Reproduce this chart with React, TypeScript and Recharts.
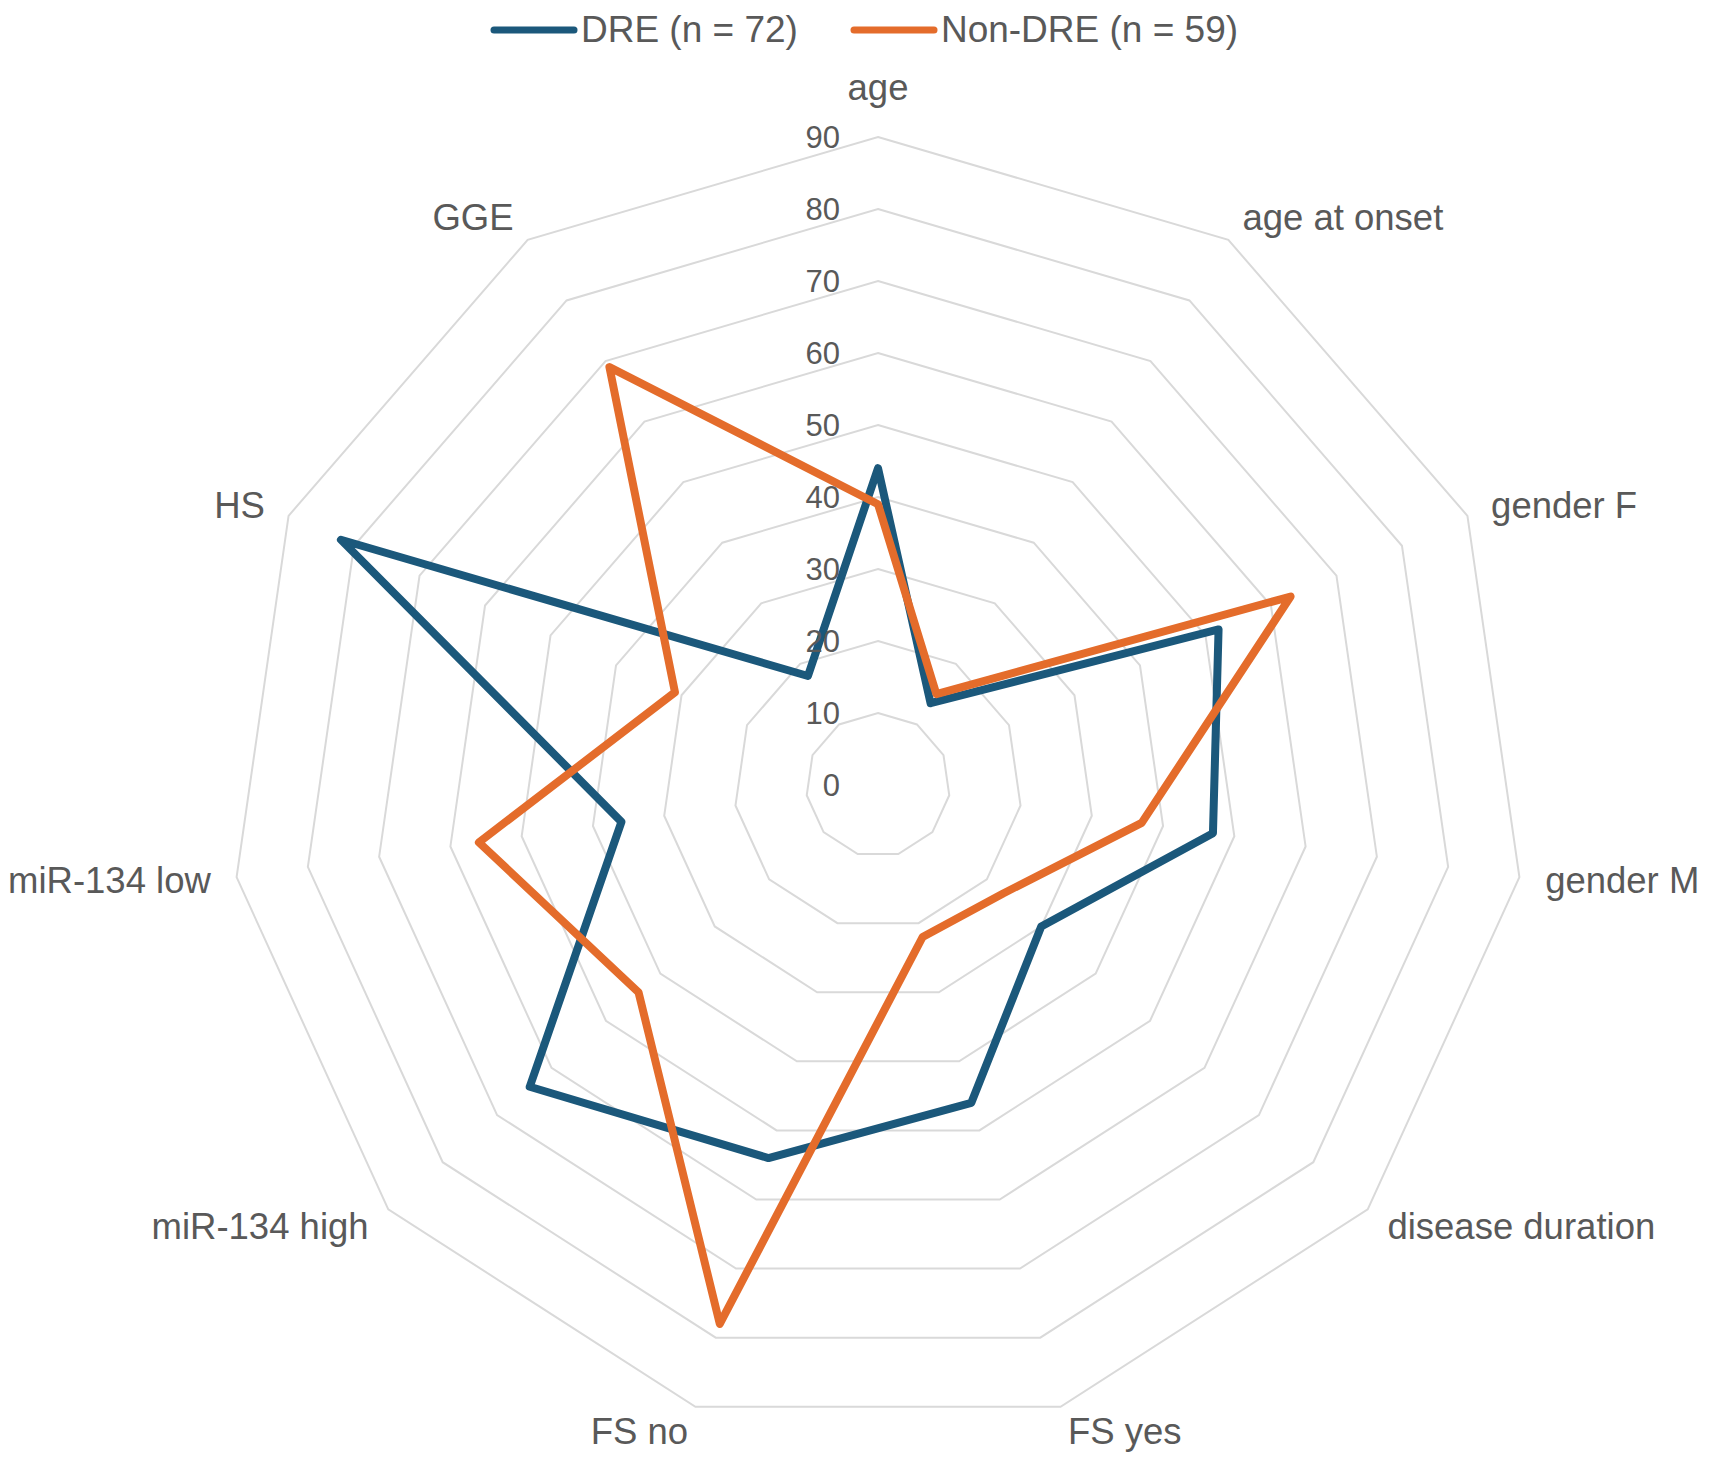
import React from "react";
import {
  RadarChart,
  Radar,
  PolarGrid,
  PolarAngleAxis,
  PolarRadiusAxis,
  Legend,
} from "recharts";

const categories = [
  "age",
  "age at onset",
  "gender F",
  "gender M",
  "disease duration",
  "FS yes",
  "FS no",
  "miR-134 high",
  "miR-134 low",
  "HS",
  "GGE",
];

const dreValues = [44, 13.5, 52, 47, 30, 46, 54, 64, 36, 82, 18];
const nonDreValues = [39, 15, 63, 37, 23, 22, 78, 44, 56, 31, 69];

const radiusTicks = [0, 10, 20, 30, 40, 50, 60, 70, 80, 90];

const seriesNames = ["DRE (n = 72)", "Non-DRE (n = 59)"];

const BLUE = "#1b587b";
const ORANGE = "#e46c2b";
const TEXT = "#595959";
const FONT = "'Liberation Sans', Arial, sans-serif";

const W = 1712;
const H = 1449;
const CX = 870;
const CY = 777;
const R = 648;

const data = categories.map((c, i) => ({
  category: c,
  dre: dreValues[i],
  nonDre: nonDreValues[i],
}));

function AngleTick(props: any) {
  const { x, y, payload } = props;
  const dx = x - CX;
  const dy = y - CY;
  const d = Math.sqrt(dx * dx + dy * dy) || 1;
  const ux = dx / d;
  const uy = dy / d;
  const tx = CX + ux * (R + 26);
  let ty = CY + uy * (R + 26);
  let anchor = "middle";
  if (ux > 0.05) anchor = "start";
  else if (ux < -0.05) anchor = "end";
  else ty -= 24;
  return (
    <text
      x={tx}
      y={ty}
      textAnchor={anchor}
      dominantBaseline="central"
      fontFamily={FONT}
      fontSize={36.5}
      fill={TEXT}
    >
      {payload.value}
    </text>
  );
}

function RadiusTick(props: any) {
  const { x, y, payload } = props;
  return (
    <text
      x={x - 38}
      y={y}
      textAnchor="end"
      dominantBaseline="central"
      fontFamily={FONT}
      fontSize={31}
      fill={TEXT}
    >
      {payload.value}
    </text>
  );
}

function LegendContent() {
  const colors = [BLUE, ORANGE];
  return (
    <div
      style={{
        display: "flex",
        justifyContent: "center",
        alignItems: "center",
        gap: 52,
        fontFamily: FONT,
        fontSize: 37,
        color: TEXT,
        height: 44,
      }}
    >
      {seriesNames.map((name, i) => (
        <div key={name} style={{ display: "flex", alignItems: "center" }}>
          <svg width={88} height={10} style={{ marginRight: 3 }}>
            <line
              x1={4}
              y1={5}
              x2={84}
              y2={5}
              stroke={colors[i]}
              strokeWidth={7}
              strokeLinecap="round"
            />
          </svg>
          <span>{name}</span>
        </div>
      ))}
    </div>
  );
}

export default function App() {
  return (
    <div style={{ position: "relative", width: W, height: H }}>
      <RadarChart
        width={W}
        height={H}
        data={data}
        cx={CX}
        cy={CY}
        outerRadius={R}
        startAngle={90}
        endAngle={-270}
        margin={{ top: 0, right: 0, bottom: 0, left: 0 }}
      >
        <PolarGrid
          gridType="polygon"
          radialLines={false}
          stroke="#d9d9d9"
          strokeWidth={2}
        />
        <PolarAngleAxis
          dataKey="category"
          tick={<AngleTick />}
          tickLine={false}
          axisLine={false}
        />
        <PolarRadiusAxis
          angle={90}
          domain={[0, 90]}
          ticks={radiusTicks as any}
          tickCount={10}
          tick={<RadiusTick />}
          axisLine={false}
          tickLine={false}
        />
        <Radar
          name={seriesNames[0]}
          dataKey="dre"
          stroke={BLUE}
          strokeWidth={8}
          strokeLinejoin="round"
          fill="none"
          fillOpacity={0}
          dot={false}
          isAnimationActive={false}
        />
        <Radar
          name={seriesNames[1]}
          dataKey="nonDre"
          stroke={ORANGE}
          strokeWidth={8}
          strokeLinejoin="round"
          fill="none"
          fillOpacity={0}
          dot={false}
          isAnimationActive={false}
        />
        <Legend
          verticalAlign="top"
          content={<LegendContent />}
          wrapperStyle={{ position: "absolute", top: 0, left: 0, width: W }}
        />
      </RadarChart>
    </div>
  );
}
